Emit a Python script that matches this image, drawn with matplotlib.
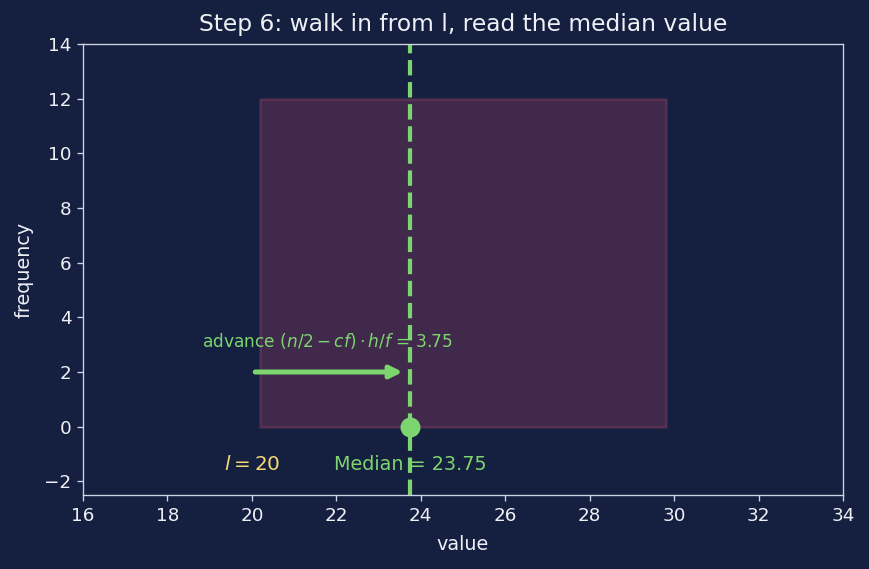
import matplotlib
matplotlib.use("Agg")
import matplotlib.pyplot as plt

# data
class_lower = 20
class_width = 10
class_freq = 12
median = 23.75
advance = 3.75

bg = '#151f3f'
green = '#7dd56f'
yellow = '#f5d776'
fg = '#eef0f5'

fig = plt.figure(figsize=(869 / 120, 569 / 120), dpi=120)
fig.patch.set_facecolor(bg)
ax = fig.add_axes([83 / 869, 1 - 495 / 569, 760 / 869, 451 / 569])
ax.set_facecolor(bg)

ax.bar(class_lower + class_width / 2, class_freq, width=class_width * 0.96,
       color='#d9507a', alpha=0.22, edgecolor='#e05a80', linewidth=1.5)

ax.axvline(median, color=green, linestyle='--', linewidth=2.5)
ax.annotate('', xy=(median - 0.1, 2), xytext=(class_lower, 2),
            arrowprops=dict(arrowstyle='-|>', color=green, lw=3,
                            mutation_scale=15, capstyle='round'))
ax.text((class_lower + median) / 2 - 0.1, 3.15,
        r'advance $(n/2 - cf)\cdot h/f$ = ' + f'{advance:.2f}',
        color=green, fontsize=10.2, ha='center', va='center')
ax.plot([median], [0], 'o', color=green, markersize=11, zorder=5)

ax.text(class_lower, -1.4, r'$l = 20$', color=yellow, fontsize=12,
        ha='center', va='center')
ax.text(median, -1.4, f'Median = {median:.2f}', color=green, fontsize=11.5,
        ha='center', va='center')

ax.set_xlim(16, 34)
ax.set_ylim(-2.5, 14)
ax.set_xticks(range(16, 35, 2))
ax.set_yticks(range(-2, 15, 2))
ax.set_xlabel('value', color=fg, fontsize=11.5, labelpad=6.5)
ax.set_ylabel('frequency', color=fg, fontsize=11.5, labelpad=6.5)
ax.set_title('Step 6: walk in from l, read the median value', color=fg,
             fontsize=14, pad=8)
ax.tick_params(colors='#cdd3e6', labelcolor=fg, labelsize=11)
for s in ax.spines.values():
    s.set_color('#cdd3e6')

plt.savefig('out.png', facecolor=bg)
